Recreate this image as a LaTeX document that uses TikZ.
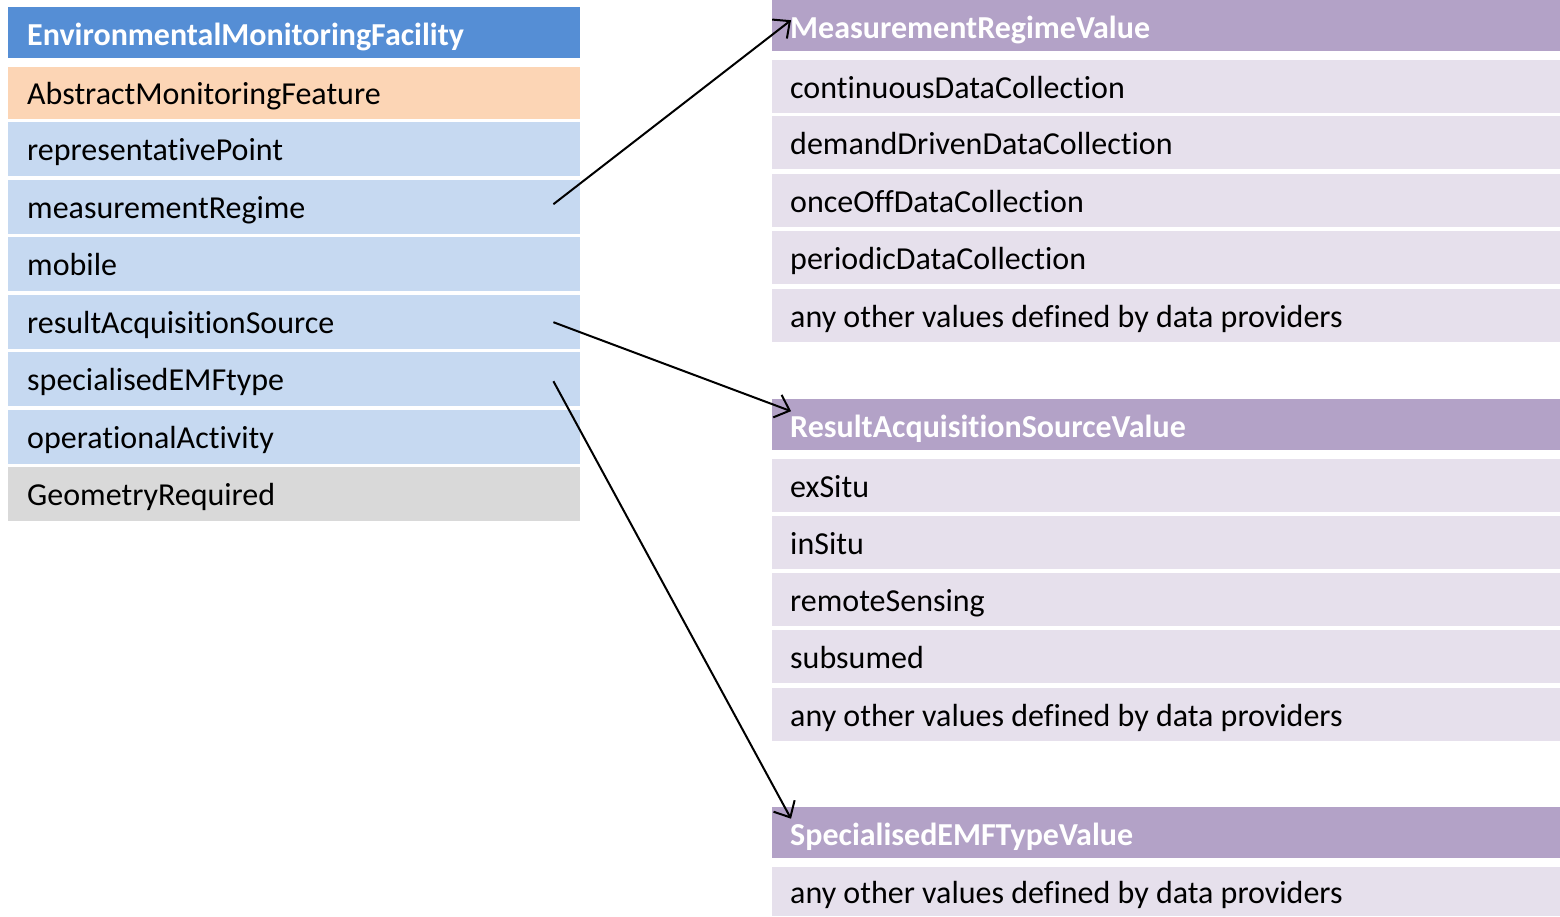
\documentclass[tikz,border=0pt]{standalone}
\usepackage{fontspec}
\setmainfont{Carlito}[RawFeature={-liga;-clig;-calt;-dlig}]
\usepackage{tikz}
\usetikzlibrary{arrows.meta}

\definecolor{emfblue}{HTML}{558ED5}
\definecolor{absorange}{HTML}{FCD5B5}
\definecolor{attrblue}{HTML}{C6D9F1}
\definecolor{geomgrey}{HTML}{D9D9D9}
\definecolor{cdlpurple}{HTML}{B3A2C7}
\definecolor{valpurple}{HTML}{E6E0EC}

\newcommand{\cellfont}{\fontsize{32}{36}\selectfont}
\newcommand{\plainspace}{\spaceskip=0pt\relax\xspaceskip=0pt\relax}

\tikzset{
  cell/.style={anchor=north west, inner sep=0pt, align=left,
    execute at begin node=\plainspace,
    text height=30pt, text depth=7pt, font=\cellfont},
  lcell/.style={cell, inner xsep=19pt, text width=534pt, minimum height=54pt},
  rcell/.style={cell, inner xsep=18pt, text width=752pt, minimum height=53pt, fill=valpurple},
  rhead/.style={cell, inner xsep=18pt, text width=752pt, minimum height=51pt, text height=32pt,
    fill=cdlpurple, text=white, font=\cellfont\bfseries},
  link/.style={line width=2pt, -{Straight Barb[length=13pt,width=24pt]}}
}

\begin{document}
\begin{tikzpicture}[x=1pt,y=-1pt]
\useasboundingbox (0,0) rectangle (1560,916);
% feature type
\node[lcell, minimum height=51pt, text height=32pt, fill=emfblue, text=white,
  font=\cellfont\bfseries] (emf) at (8,7) {EnvironmentalMonitoringFacility};
\node[lcell, minimum height=52pt, fill=absorange] (amf) at (8,67) {AbstractMonitoringFeature};
\foreach \y/\name/\txt in {122/rp/representativePoint, 180/mr/measurementRegime,
  237/mob/mobile, 295/ras/resultAcquisitionSource, 352/semf/specialisedEMFtype,
  410/oa/operationalActivity}
  \node[lcell, fill=attrblue] (\name) at (8,\y) {\txt};
\node[lcell, fill=geomgrey] (geom) at (8,467) {GeometryRequired};

% code lists
\node[rhead] (mrv) at (772,0) {MeasurementRegimeValue};
\foreach \y/\name/\txt in {60/mrv1/continuousDataCollection, 116/mrv2/demandDrivenDataCollection,
  174/mrv3/onceOffDataCollection, 231/mrv4/periodicDataCollection,
  289/mrv5/any other values defined by data providers}
  \node[rcell] (\name) at (772,\y) {\txt};

\node[rhead] (rasv) at (772,399) {ResultAcquisitionSourceValue};
\foreach \y/\name/\txt in {459/rasv1/exSitu, 516/rasv2/inSitu,
  573/rasv3/remoteSensing, 630/rasv4/subsumed,
  688/rasv5/any other values defined by data providers}
  \node[rcell] (\name) at (772,\y) {\txt};

\node[rhead] (semfv) at (772,807) {SpecialisedEMFTypeValue};
\node[rcell, minimum height=49pt] (semfv1) at (772,867) {any other values defined by data providers};

% links
\draw[link] ([xshift=-27pt,yshift=3pt]mr.east) -- ([xshift=19pt,yshift=5.5pt]mrv.west);
\draw[link] ([xshift=-27pt]ras.east) -- ([xshift=19pt,yshift=13.5pt]rasv.west);
\draw[link] ([xshift=-27pt,yshift=-2pt]semf.east) -- ([xshift=19pt,yshift=14pt]semfv.west);
\end{tikzpicture}
\end{document}
